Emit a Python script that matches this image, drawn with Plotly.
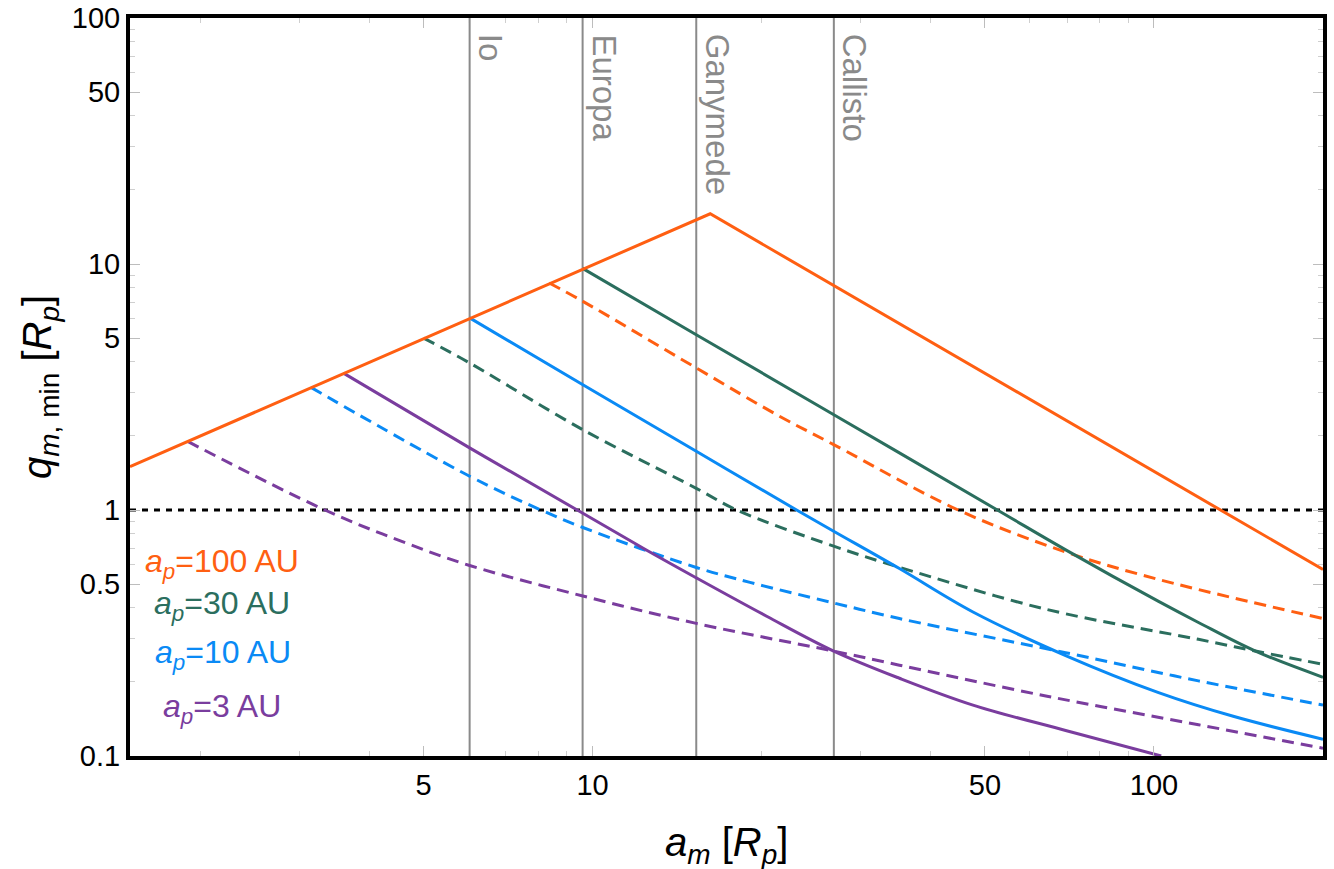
import math
import plotly.graph_objects as go

# ---------------- data ----------------
a_100_solid = [1.5, 16.2, 200]
q_100_solid = [1.5, 16.0, 0.573]

a_100_dash = [8.37, 9.61, 15.3, 21.56, 26.88, 44.8, 69.6, 101.9, 200]
q_100_dash = [8.37, 7.05, 3.78, 2.40, 1.845, 1.0, 0.675, 0.522, 0.362]

a_30_solid = [9.6, 15.3, 26.9, 52.6, 70, 101.9, 120, 151.6, 200]
q_30_solid = [9.6, 5.16, 2.44, 1.0, 0.684, 0.425, 0.349, 0.267, 0.209]

a_30_dash = [5.0, 6.04, 9.61, 15.3, 18.07, 26.88, 35.2, 64.5, 120, 151.6, 200]
q_30_dash = [5.0, 3.96, 2.12, 1.225, 1.0, 0.713, 0.585, 0.394, 0.298, 0.267, 0.236]

a_10_solid = [6.04, 9.61, 15.3, 23.09, 26.88, 35.2, 47.6, 69.6, 101.9, 138.4, 200]
q_10_solid = [6.04, 3.23, 1.733, 1.0, 0.820, 0.578, 0.385, 0.256, 0.181, 0.145, 0.117]

a_10_dash = [3.15, 6.04, 8.09, 9.61, 15.3, 19.07, 26.88, 35.2, 69.6, 120, 200]
q_10_dash = [3.15, 1.372, 1.0, 0.849, 0.584, 0.508, 0.419, 0.362, 0.263, 0.202, 0.161]

a_3_solid = [3.6, 6.04, 9.39, 12.42, 15.3, 20.42, 26.88, 35.2, 47.6, 69.6, 103]
q_3_solid = [3.6, 1.789, 1.0, 0.691, 0.530, 0.370, 0.267, 0.207, 0.161, 0.127, 0.1]

a_3_dash = [1.9, 3.336, 4.56, 6.04, 9.61, 15.3, 26.88, 35.2, 64.5, 120, 200]
q_3_dash = [1.9, 1.0, 0.747, 0.595, 0.447, 0.346, 0.267, 0.234, 0.175, 0.134, 0.1075]

moon_names = ["Io", "Europa", "Ganymede", "Callisto"]
moon_a = [6.04, 9.6, 15.3, 26.9]

q_threshold = 1.0

x_range = [1.5, 200]
y_range = [0.1, 100]

x_tick_vals = [5, 10, 50, 100]
x_tick_text = ["5", "10", "50", "100"]
x_minor_vals = [2, 3, 4, 6, 7, 8, 9, 20, 30, 40, 60, 70, 80, 90, 200]
y_tick_vals = [0.1, 0.5, 1, 5, 10, 50, 100]
y_tick_text = ["0.1", "0.5", "1", "5", "10", "50", "100"]
y_minor_vals = [0.2, 0.3, 0.4, 0.6, 0.7, 0.8, 0.9, 2, 3, 4, 6, 7, 8, 9,
                20, 30, 40, 60, 70, 80, 90]

series_labels = ["100", "30", "10", "3"]

# ---------------- styles ----------------
ORANGE = "#ff5f12"
GREEN = "#2b6e5e"
BLUE = "#0a8af5"
PURPLE = "#7a3d9e"
MOON = "#8a8a8a"
FONT = "Liberation Sans, Arial, sans-serif"
DASH = "12px,7px"

fig = go.Figure()

# moon lines
for name, a in zip(moon_names, moon_a):
    fig.add_trace(go.Scatter(x=[a, a], y=y_range, mode="lines",
                             line=dict(color=MOON, width=2),
                             hoverinfo="skip", showlegend=False))

# q = 1 dotted line
fig.add_trace(go.Scatter(x=x_range, y=[q_threshold, q_threshold], mode="lines",
                         line=dict(color="black", width=3, dash="6px,6px"),
                         hoverinfo="skip", showlegend=False))

curves = [
    (a_3_dash, q_3_dash, PURPLE, DASH),
    (a_10_dash, q_10_dash, BLUE, DASH),
    (a_30_dash, q_30_dash, GREEN, DASH),
    (a_100_dash, q_100_dash, ORANGE, DASH),
    (a_3_solid, q_3_solid, PURPLE, "solid"),
    (a_10_solid, q_10_solid, BLUE, "solid"),
    (a_30_solid, q_30_solid, GREEN, "solid"),
]
for xs, ys, col, dash in curves:
    fig.add_trace(go.Scatter(x=xs, y=ys, mode="lines",
                             line=dict(color=col, width=3, dash=dash,
                                       shape="spline", smoothing=1.0),
                             showlegend=False))

fig.add_trace(go.Scatter(x=a_100_solid, y=q_100_solid, mode="lines",
                         line=dict(color=ORANGE, width=3),
                         showlegend=False))

# moon labels
annotations = []
for name, a in zip(moon_names, moon_a):
    annotations.append(dict(
        x=math.log10(a), xref="x", y=1, yref="paper",
        text=name, textangle=90, showarrow=False,
        xanchor="left", yanchor="top", xshift=1, yshift=-14,
        font=dict(family=FONT, size=33, color=MOON)))

# series labels
label_cols = [ORANGE, GREEN, BLUE, PURPLE]
label_pos = [(0.0771, 0.2615), (0.0771, 0.2046), (0.0779, 0.1369), (0.0771, 0.065)]
for lab, col, (px, py) in zip(series_labels, label_cols, label_pos):
    annotations.append(dict(
        x=px, y=py, xref="paper", yref="paper", showarrow=False,
        xanchor="center", yanchor="middle",
        text="<i>a</i><sub><i>p</i></sub>=" + lab + " AU",
        font=dict(family=FONT, size=32, color=col)))

# axis titles
annotations.append(dict(
    x=0.5, y=0, xref="paper", yref="paper", yshift=-89, showarrow=False,
    xanchor="center", yanchor="middle",
    text="<i>a</i><sub><i>m</i></sub> [<i>R</i><sub><i>p</i></sub>]",
    font=dict(family=FONT, size=40, color="black")))
annotations.append(dict(
    x=0, y=0.5, xref="paper", yref="paper", xshift=-90, showarrow=False,
    xanchor="center", yanchor="middle", textangle=-90,
    text="<i>q</i><sub><i>m</i>, min</sub> [<i>R</i><sub><i>p</i></sub>]",
    font=dict(family=FONT, size=40, color="black")))

axis_common = dict(
    type="log", showgrid=False, zeroline=False, automargin=False,
    showline=True, linecolor="black", linewidth=4, mirror="allticks",
    ticks="inside", ticklen=10, tickwidth=1, tickcolor="#bdbdbd",
    tickfont=dict(family=FONT, size=29, color="black"),
)

fig.update_layout(
    width=1334, height=869,
    margin=dict(l=130, r=11, t=18, b=113, autoexpand=False),
    paper_bgcolor="white", plot_bgcolor="white",
    showlegend=False,
    annotations=annotations,
    xaxis=dict(range=[math.log10(x_range[0]), math.log10(x_range[1])],
               tickmode="array", tickvals=x_tick_vals, ticktext=x_tick_text,
               minor=dict(tickmode="array", tickvals=x_minor_vals, ticks="inside",
                          ticklen=5, tickwidth=1, tickcolor="#cfcfcf"),
               **axis_common),
    yaxis=dict(range=[math.log10(y_range[0]), math.log10(y_range[1])],
               tickmode="array", tickvals=y_tick_vals, ticktext=y_tick_text,
               minor=dict(tickmode="array", tickvals=y_minor_vals, ticks="inside",
                          ticklen=5, tickwidth=1, tickcolor="#cfcfcf"),
               **axis_common),
)

fig.write_html("out.html")
